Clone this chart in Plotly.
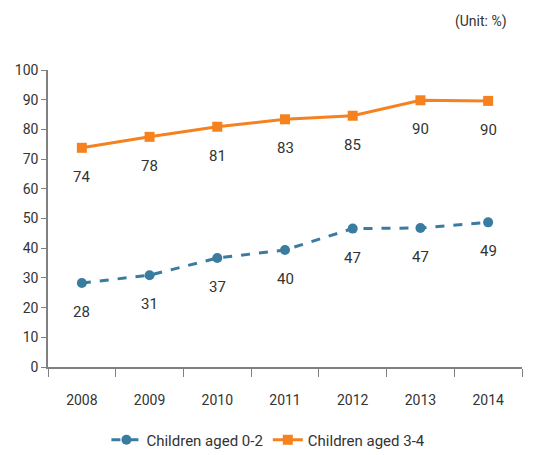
import plotly.graph_objects as go

years = ["2008", "2009", "2010", "2011", "2012", "2013", "2014"]
aged_0_2 = [28.3, 30.9, 36.7, 39.4, 46.6, 46.8, 48.7]
aged_3_4 = [73.8, 77.5, 80.9, 83.4, 84.6, 89.8, 89.6]
labels_0_2 = ["28", "31", "37", "40", "47", "47", "49"]
labels_3_4 = ["74", "78", "81", "83", "85", "90", "90"]

font_family = "Roboto, DejaVu Sans, sans-serif"
text_color = "#333333"

fig = go.Figure()
fig.add_trace(go.Scatter(
    x=years, y=aged_0_2, name="Children aged 0-2", mode="lines+markers",
    line=dict(color="#3A7BA0", width=3, dash="dash"),
    marker=dict(symbol="circle", size=10, color="#3A7BA0"),
))
fig.add_trace(go.Scatter(
    x=years, y=aged_3_4, name="Children aged 3-4", mode="lines+markers",
    line=dict(color="#F5821F", width=3),
    marker=dict(symbol="square", size=10, color="#F5821F"),
))

annotations = []
for ys, labs in [(aged_0_2, labels_0_2), (aged_3_4, labels_3_4)]:
    for i, (yv, lab) in enumerate(zip(ys, labs)):
        annotations.append(dict(x=i, y=yv, text=lab, showarrow=False, yshift=-29,
                                xanchor="center", yanchor="middle",
                                font=dict(size=15, color=text_color)))
annotations.append(dict(text="(Unit: %)", xref="paper", yref="paper", x=0.972, y=1.162,
                        xanchor="right", yanchor="middle", showarrow=False,
                        font=dict(size=14, color=text_color)))

fig.update_layout(
    width=539, height=447,
    margin=dict(l=40, r=25, t=62, b=88, autoexpand=False),
    plot_bgcolor="white", paper_bgcolor="white",
    font=dict(family=font_family, size=14, color=text_color),
    showlegend=True,
    legend=dict(orientation="h", x=0.465, xanchor="center", y=-0.246, yanchor="middle",
                font=dict(size=15, color=text_color), traceorder="normal"),
    xaxis=dict(
        type="category", range=[-0.5, len(years) - 0.5],
        showgrid=False, showline=True, linecolor="#808080", linewidth=1.5,
        ticks="outside", tickson="boundaries", ticklen=8, tickcolor="#808080",
        tickfont=dict(size=14), tickangle=0, fixedrange=True, automargin=False,
        ticklabelstandoff=19,
    ),
    yaxis=dict(
        range=[0, 100], dtick=10, showgrid=False, showline=True, linecolor="#808080",
        linewidth=1.5, ticks="outside", ticklen=5, tickcolor="#808080",
        tickfont=dict(size=14), zeroline=False, automargin=False,
    ),
    annotations=annotations,
)

fig.write_html("out.html")
